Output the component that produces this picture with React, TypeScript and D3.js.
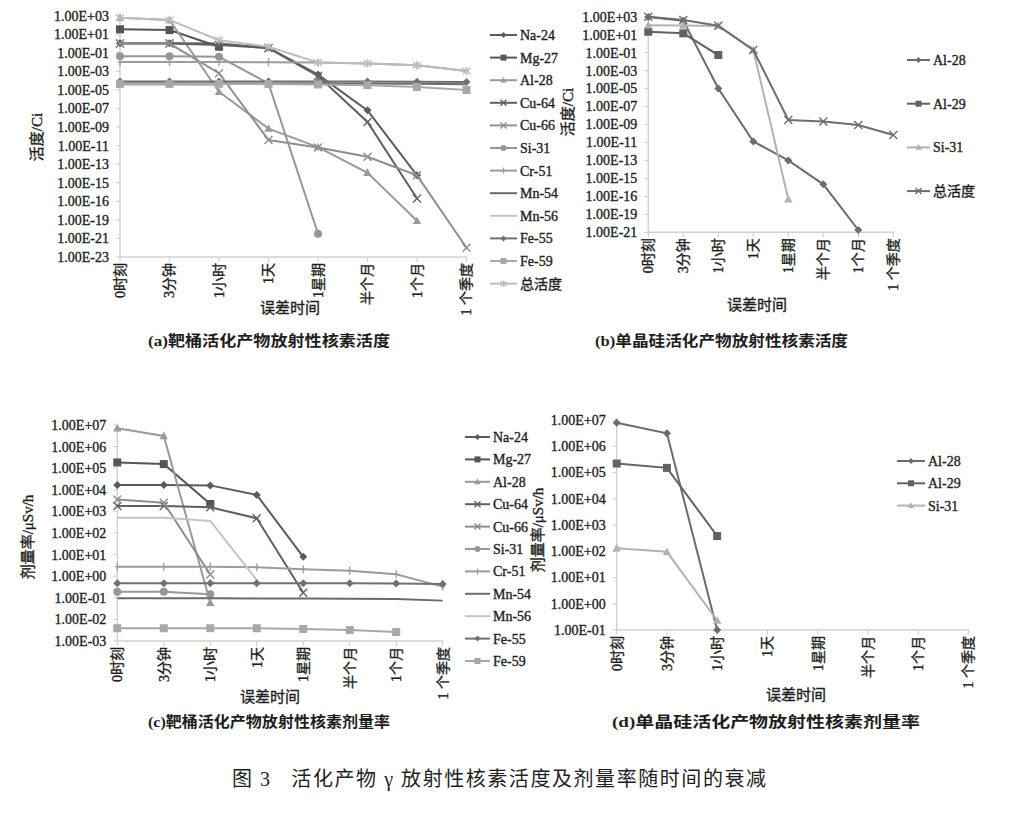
import React from 'react';
import * as d3 from 'd3';

// x categories shared by all four panels
const categories = ['0时刻', '3分钟', '1小时', '1天', '1星期', '半个月', '1个月', '1 个季度'];

// y tick labels (as printed in the figure, typos included)
const ticksActA = ['1.00E+03', '1.00E+01', '1.00E-01', '1.00E-03', '1.00E-05', '1.00E-07', '1.00E-09',
  '1.00E-11', '1.00E-13', '1.00E-15', '1.00E-16', '1.00E-19', '1.00E-21', '1.00E-23'];
const ticksActB = ticksActA.slice(0, 13);
const ticksDoseC = ['1.00E+07', '1.00E+06', '1.00E+05', '1.00E+04', '1.00E+03', '1.00E+02',
  '1.00E+01', '1.00E+00', '1.00E-01', '1.00E-02', '1.00E-03'];
const ticksDoseD = ticksDoseC.slice(0, 9);

// (a) target bucket activity, Ci
const na24A = [1.1, 1.1, 1.0, 3.5e-1, 4.5e-4, 6.3e-8, 6.3e-15, null];
const mg27A = [3.4e1, 2.8e1, 4.5e-1, null, null, null, null, null];
const al28A = [6.0e2, 3.5e2, 6.3e-6, 6.8e-10, 7.0e-12, 1.2e-14, 8.0e-20, null];
const cu64A = [1.0, 1.0, 7.0e-1, 3.2e-1, 3.2e-4, 3.5e-9, 2.0e-17, null];
const cu66A = [1.0, 1.0, 6.3e-4, 4.0e-11, 6.3e-12, 6.3e-13, 6.3e-15, 1.0e-22];
const si31A = [4.4e-2, 4.4e-2, 3.7e-2, 5.0e-5, 3.2e-21, null, null, null];
const cr51A = [1.0e-2, 1.0e-2, 1.0e-2, 9.8e-3, 9.1e-3, 7.1e-3, 4.7e-3, 1.1e-3];
const mn54A = [5.0e-5, 5.0e-5, 5.0e-5, 5.0e-5, 4.9e-5, 4.8e-5, 4.6e-5, 4.0e-5];
const mn56A = [3.6e-5, 3.6e-5, 3.2e-5, null, null, null, null, null];
const fe55A = [8.0e-5, 8.0e-5, 8.0e-5, 8.0e-5, 8.0e-5, 7.9e-5, 7.8e-5, 7.4e-5];
const fe59A = [4.5e-5, 4.5e-5, 4.5e-5, 4.4e-5, 3.9e-5, 3.3e-5, 2.1e-5, 1.0e-5];
const totalA = [6.0e2, 3.5e2, 2.3, 4.5e-1, 9.1e-3, 7.1e-3, 4.7e-3, 1.1e-3];

// (b) monocrystalline silicon activity, Ci
const al28B = [9.0e2, 3.5e2, 1.0e-5, 1.3e-11, 1.0e-13, 2.2e-16, 1.8e-21, null];
const al29B = [2.1e1, 1.4e1, 5.4e-2, null, null, null, null, null];
const si31B = [1.1e2, 1.05e2, 9.5e1, 2.0e-1, 4.7e-18, null, null, null];
const totalB = [1.0e3, 4.3e2, 1.0e2, 2.0e-1, 3.2e-9, 2.1e-9, 8.9e-10, 6.8e-11];

// (c) target bucket dose rate, μSv/h
const na24C = [1.66e4, 1.66e4, 1.6e4, 5.8e3, 7.9, null, null, null];
const mg27C = [1.85e5, 1.55e5, 2.2e3, null, null, null, null, null];
const al28C = [7.0e6, 3.1e6, 5.9e-2, null, null, null, null, null];
const cu64C = [1.8e3, 1.8e3, 1.55e3, 4.8e2, 1.7e-1, null, null, null];
const cu66C = [3.6e3, 2.5e3, 1.2, null, null, null, null, null];
const si31C = [1.9e-1, 1.9e-1, 1.45e-1, null, null, null, null, null];
const cr51C = [2.75, 2.75, 2.75, 2.6, 2.1, 1.8, 1.23, 3.3e-1];
const mn54C = [9.5e-2, 9.5e-2, 9.5e-2, 9.4e-2, 9.2e-2, 9.0e-2, 8.8e-2, 7.4e-2];
const mn56C = [5.1e2, 5.1e2, 3.6e2, 6.6e-1, null, null, null, null];
const fe55C = [4.7e-1, 4.7e-1, 4.7e-1, 4.7e-1, 4.7e-1, 4.7e-1, 4.6e-1, 4.4e-1];
const fe59C = [3.9e-3, 3.9e-3, 3.9e-3, 3.9e-3, 3.6e-3, 3.2e-3, 2.6e-3, null];

// (d) monocrystalline silicon dose rate, μSv/h
const al28D = [7.9e6, 3.1e6, 1.0e-1, null, null, null, null, null];
const al29D = [2.2e5, 1.5e5, 3.8e2, null, null, null, null, null];
const si31D = [1.3e2, 9.5e1, 2.3e-1, null, null, null, null, null];

type Marker = 'diamond' | 'square' | 'triangle' | 'x' | 'star' | 'circle' | 'plus' | 'none';
type Style = { color: string; marker: Marker };
type Series = { name: string; values: (number | null)[]; style: Style };

const DARK = '#5b5b5b';
const MID = '#8e8e8e';
const LIGHT = '#bdbdbd';

const bucketStyle: Record<string, Style> = {
  'Na-24': { color: DARK, marker: 'diamond' },
  'Mg-27': { color: '#555555', marker: 'square' },
  'Al-28': { color: '#9a9a9a', marker: 'triangle' },
  'Cu-64': { color: '#606060', marker: 'x' },
  'Cu-66': { color: MID, marker: 'x' },
  'Si-31': { color: '#969696', marker: 'circle' },
  'Cr-51': { color: '#9c9c9c', marker: 'plus' },
  'Mn-54': { color: '#6a6a6a', marker: 'none' },
  'Mn-56': { color: '#c4c4c4', marker: 'none' },
  'Fe-55': { color: '#707070', marker: 'diamond' },
  'Fe-59': { color: '#a8a8a8', marker: 'square' },
  '总活度': { color: LIGHT, marker: 'star' },
};
const siliconStyle: Record<string, Style> = {
  'Al-28': { color: '#6c6c6c', marker: 'diamond' },
  'Al-29': { color: '#626262', marker: 'square' },
  'Si-31': { color: '#b2b2b2', marker: 'triangle' },
  '总活度': { color: '#6e6e6e', marker: 'x' },
};

const mk = (names: string[], vals: (number | null)[][], st: Record<string, Style>): Series[] =>
  names.map((n, i) => ({ name: n, values: vals[i], style: st[n] }));

const FONT = "'Liberation Serif', 'Times New Roman', 'DejaVu Serif', 'Noto Sans CJK SC', serif";
const TXT = '#1e1e1e';
const AXIS = '#d2d2d2';
// thin outline gives the heavier look of the scanned print
const heavy = { stroke: TXT, strokeWidth: 0.35 };

function MarkerShape({ m, x, y, s, color }: { m: Marker; x: number; y: number; s: number; color: string }) {
  switch (m) {
    case 'diamond':
      return <path d={`M${x},${y - s}L${x + s},${y}L${x},${y + s}L${x - s},${y}Z`} fill={color} />;
    case 'square':
      return <rect x={x - s} y={y - s} width={2 * s} height={2 * s} fill={color} />;
    case 'triangle':
      return <path d={`M${x},${y - s * 1.1}L${x + s * 1.05},${y + s * 0.8}L${x - s * 1.05},${y + s * 0.8}Z`} fill={color} />;
    case 'circle':
      return <circle cx={x} cy={y} r={s} fill={color} />;
    case 'x':
      return <path d={`M${x - s},${y - s}L${x + s},${y + s}M${x - s},${y + s}L${x + s},${y - s}`} stroke={color} strokeWidth={1.4} fill="none" />;
    case 'star':
      return <path d={`M${x - s},${y - s * 0.8}L${x + s},${y + s * 0.8}M${x - s},${y + s * 0.8}L${x + s},${y - s * 0.8}M${x},${y - s}L${x},${y + s}`} stroke={color} strokeWidth={1.4} fill="none" />;
    case 'plus':
      return <path d={`M${x},${y - s}L${x},${y + s}M${x - s * 0.6},${y}L${x + s * 0.6},${y}`} stroke={color} strokeWidth={1.3} fill="none" />;
    default:
      return null;
  }
}

type PanelProps = {
  series: Series[];
  tickLabels: string[];
  topExp: number;
  step: number;
  x0: number; x1: number; y0: number; y1: number;
  yTitle: string; yTitleX: number; yTitleY: number;
  xTitleX: number; xTitleY: number;
  legX: number; legY: number; legDy: number; legW: number;
  caption: string; capX: number; capY: number; capW: number;
};

function Panel(p: PanelProps) {
  const botExp = p.topExp - p.step * (p.tickLabels.length - 1);
  const x = d3.scalePoint<string>().domain(categories).range([p.x0, p.x1]);
  const y = d3.scaleLog().domain([10 ** botExp, 10 ** p.topExp]).range([p.y1, p.y0]);
  const ticks = p.tickLabels.map((t, i) => ({ t, v: 10 ** (p.topExp - p.step * i) }));
  const line = d3.line<number | null>()
    .defined(d => d != null)
    .x((_, i) => x(categories[i])!)
    .y(d => y(d as number));

  return (
    <g>
      {/* axes */}
      <line x1={p.x0} x2={p.x0} y1={p.y0 - 2} y2={p.y1} stroke={AXIS} strokeWidth={1.5} />
      <line x1={p.x0} x2={p.x1 + 1} y1={p.y1} y2={p.y1} stroke={AXIS} strokeWidth={1.5} />
      {ticks.map(d => (
        <g key={d.t + d.v}>
          <line x1={p.x0 - 4} x2={p.x0} y1={y(d.v)} y2={y(d.v)} stroke={AXIS} strokeWidth={1.2} />
          <text x={p.x0 - 11} y={y(d.v)} dy="0.35em" textAnchor="end" fontSize={14} fill={TXT} {...heavy}>{d.t}</text>
        </g>
      ))}
      {categories.map(c => (
        <g key={c}>
          <line x1={x(c)} x2={x(c)} y1={p.y1} y2={p.y1 + 5} stroke={AXIS} strokeWidth={1.2} />
          <text transform={`translate(${x(c)},${p.y1 + 6}) rotate(-90)`} dy="0.35em" textAnchor="end"
            fontSize={14} fill={TXT} {...heavy}>{c}</text>
        </g>
      ))}
      <text transform={`translate(${p.yTitleX},${p.yTitleY}) rotate(-90)`} dy="0.35em" textAnchor="middle"
        fontSize={15} fill={TXT} {...heavy}>{p.yTitle}</text>
      <text x={p.xTitleX} y={p.xTitleY} dy="0.35em" textAnchor="middle" fontSize={15} fill={TXT} {...heavy}>误差时间</text>

      {/* series */}
      {p.series.map(s => (
        <g key={s.name}>
          <path d={line(s.values) ?? ''} fill="none" stroke={s.style.color} strokeWidth={2} />
          {s.values.map((v, i) => v == null ? null : (
            <MarkerShape key={i} m={s.style.marker} x={x(categories[i])!} y={y(v)} s={4} color={s.style.color} />
          ))}
        </g>
      ))}

      {/* legend */}
      {p.series.map((s, i) => {
        const ly = p.legY + i * p.legDy;
        return (
          <g key={'leg' + s.name}>
            <line x1={p.legX} x2={p.legX + p.legW} y1={ly} y2={ly} stroke={s.style.color} strokeWidth={2} />
            <MarkerShape m={s.style.marker} x={p.legX + p.legW / 2} y={ly} s={3} color={s.style.color} />
            <text x={p.legX + p.legW + 3} y={ly} dy="0.35em" fontSize={14} fill={TXT} {...heavy}>{s.name}</text>
          </g>
        );
      })}

      <text x={p.capX} y={p.capY} dy="0.35em" fontSize={15} fontWeight="bold" fill={TXT}
        textLength={p.capW} lengthAdjust="spacingAndGlyphs">{p.caption}</text>
    </g>
  );
}

const bucketNamesA = ['Na-24', 'Mg-27', 'Al-28', 'Cu-64', 'Cu-66', 'Si-31', 'Cr-51', 'Mn-54', 'Mn-56', 'Fe-55', 'Fe-59', '总活度'];
const bucketNamesC = bucketNamesA.slice(0, 11);
const siliconNamesB = ['Al-28', 'Al-29', 'Si-31', '总活度'];
const siliconNamesD = siliconNamesB.slice(0, 3);

export default function App() {
  const seriesA = mk(bucketNamesA, [na24A, mg27A, al28A, cu64A, cu66A, si31A, cr51A, mn54A, mn56A, fe55A, fe59A, totalA], bucketStyle);
  const seriesB = mk(siliconNamesB, [al28B, al29B, si31B, totalB], siliconStyle);
  const seriesC = mk(bucketNamesC, [na24C, mg27C, al28C, cu64C, cu66C, si31C, cr51C, mn54C, mn56C, fe55C, fe59C], bucketStyle);
  const seriesD = mk(siliconNamesD, [al28D, al29D, si31D], siliconStyle);

  return (
    <svg width={1016} height={813} style={{ position: 'absolute', left: 0, top: 0, background: '#fff', fontFamily: FONT }}>
      <rect width={1016} height={813} fill="#fff" />
      <Panel series={seriesA} tickLabels={ticksActA} topExp={3} step={2}
        x0={120} x1={466.5} y0={15.7} y1={257}
        yTitle="活度/Ci" yTitleX={37} yTitleY={137} xTitleX={290} xTitleY={308}
        legX={490} legY={35} legDy={22.6} legW={27}
        caption="(a)靶桶活化产物放射性核素活度" capX={148} capY={341} capW={242} />
      <Panel series={seriesB} tickLabels={ticksActB} topExp={3} step={2}
        x0={648.3} x1={893.3} y0={16.7} y1={232.3}
        yTitle="活度/Ci" yTitleX={568} yTitleY={112} xTitleX={757} xTitleY={305}
        legX={907} legY={60} legDy={43.7} legW={23}
        caption="(b)单晶硅活化产物放射性核素活度" capX={595} capY={341} capW={253} />
      <Panel series={seriesC} tickLabels={ticksDoseC} topExp={7} step={1}
        x0={117.3} x1={442.7} y0={425} y1={641}
        yTitle="剂量率/μSv/h" yTitleX={28} yTitleY={537} xTitleX={270} xTitleY={697}
        legX={465} legY={437} legDy={22.4} legW={25}
        caption="(c)靶桶活化产物放射性核素剂量率" capX={148} capY={722} capW={242} />
      <Panel series={seriesD} tickLabels={ticksDoseD} topExp={7} step={1}
        x0={616.7} x1={968.3} y0={420} y1={630}
        yTitle="剂量率/μSv/h" yTitleX={538} yTitleY={530} xTitleX={796} xTitleY={695}
        legX={897} legY={461} legDy={22.3} legW={28}
        caption="(d)单晶硅活化产物放射性核素剂量率" capX={612} capY={722} capW={308} />
      <text x={232} y={779} dy="0.35em" fontSize={20} fill={TXT} textLength={534} lengthAdjust="spacing"
        xmlSpace="preserve">图 3   活化产物 γ 放射性核素活度及剂量率随时间的衰减</text>
    </svg>
  );
}
